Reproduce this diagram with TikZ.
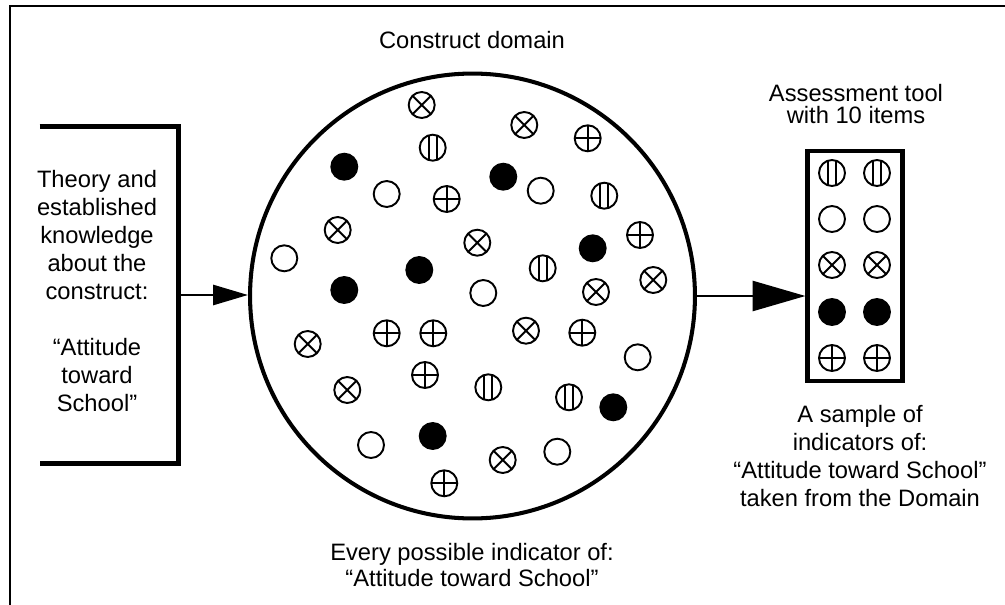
\documentclass[tikz,border=0pt]{standalone}
\usepackage{fontspec}
\setmainfont{Liberation Sans}
\usetikzlibrary{arrows.meta, positioning, calc}

\tikzset{
  txt/.style={align=center, inner sep=0pt, font=\fontsize{13.5}{15.9}\selectfont},
  indring/.style={circle, draw, line width=1.1pt, minimum size=0.52cm, inner sep=0pt},
  inddot/.style={indring, fill=black},
  indcross/.style={indring, path picture={
    \draw[line width=1.1pt] (path picture bounding box.north west) -- (path picture bounding box.south east)
      (path picture bounding box.north east) -- (path picture bounding box.south west);}},
  indplus/.style={indring, path picture={
    \draw[line width=1.1pt] (path picture bounding box.north) -- (path picture bounding box.south)
      (path picture bounding box.west) -- (path picture bounding box.east);}},
  indbars/.style={indring, path picture={
    \draw[line width=1.1pt] ([xshift=-2.2pt]path picture bounding box.north) -- ([xshift=-2.2pt]path picture bounding box.south)
      ([xshift=2.2pt]path picture bounding box.north) -- ([xshift=2.2pt]path picture bounding box.south);}},
}

\begin{document}
\begin{tikzpicture}[x=0.02cm, y=-0.02cm]
\useasboundingbox (0,0) rectangle (1005,605);

% frame
\draw [line width=1pt] (10,605) -- (10,6) -- (1005,6);

% theory box, open on the left
\node (theory) [minimum width=2.76cm, minimum height=6.72cm, inner sep=0pt] at (109,295) {};
\draw [line width=2.5pt] (theory.north west) -- (theory.north east) -- (theory.south east) -- (theory.south west);
\node (theorytext) [txt] at (97,291) {Theory and\\established\\knowledge\\about the\\construct:\\[15.9pt]``Attitude\\toward\\School''};

% construct domain
\node (domain) [circle, draw, line width=2.3pt, minimum size=8.9cm, inner sep=0pt] at (472.5,296) {};
\node (domaintitle) [txt] at (472,40) {Construct domain};
\node (domaintext) [txt, font=\fontsize{13.5}{14.8}\selectfont] at (472,565) {Every possible indicator of:\\``Attitude toward School''};

\foreach \x/\y [count=\i] in {421.7/105, 524.3/125, 337.7/230, 477.3/242.7, 653.3/280, 596/292,
    307.7/344, 526/330.7, 347.3/390, 502.7/460}
  \node (cross-\i) [indcross] at (\x,\y) {};
\foreach \x/\y [count=\i] in {587.7/138.3, 446.7/199, 640/235, 386.7/333.3, 433.3/333.3,
    582.3/332.7, 425/375, 444.3/483.3}
  \node (plus-\i) [indplus] at (\x,\y) {};
\foreach \x/\y [count=\i] in {432.7/147.7, 604.3/195.7, 542.7/268.3, 488.3/387.3, 569/397.3}
  \node (bars-\i) [indbars] at (\x,\y) {};
\foreach \x/\y [count=\i] in {344.3/166.7, 503.3/176.7, 592.7/248.3, 419.3/270, 344.3/290,
    613.3/407.3, 432.7/436}
  \node (dot-\i) [inddot] at (\x,\y) {};
\foreach \x/\y [count=\i] in {386.7/194, 540.7/190.7, 284.3/258.3, 483.3/293, 637.7/357.3,
    371/445, 557.3/451.7}
  \node (ring-\i) [indring] at (\x,\y) {};

% assessment tool
\node (tool) [draw, line width=2.3pt, minimum width=1.9cm, minimum height=4.6cm, inner sep=0pt] at (855,266) {};
\node (tooltitle) [txt, font=\fontsize{13.5}{12.3}\selectfont] at (856,104) {Assessment tool\\with 10 items};
\node (tooltext) [txt] at (860,456) {A sample of\\indicators of:\\``Attitude toward School''\\taken from the Domain};

\foreach \x [count=\i] in {832,877} {
  \node (tbars-\i) [indbars] at (\x,173) {};
  \node (tring-\i) [indring] at (\x,219) {};
  \node (tcross-\i) [indcross] at (\x,265) {};
  \node (tdot-\i) [inddot] at (\x,312) {};
  \node (tplus-\i) [indplus] at (\x,358) {};
}

% arrows
\draw [-{Triangle[length=0.7cm, width=0.4cm]}, line width=1.6pt] (theory.east) -- (theory.east -| domain.west);
\draw [-{Triangle[length=1.06cm, width=0.6cm]}, line width=1.6pt] (domain.east) -- (domain.east -| tool.west);
\end{tikzpicture}
\end{document}
